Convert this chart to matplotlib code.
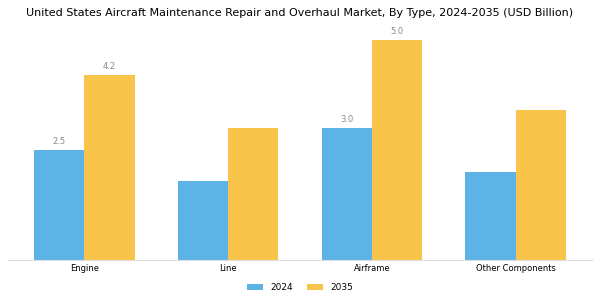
import numpy as np
import matplotlib.pyplot as plt

categories = ["Engine", "Line", "Airframe", "Other Components"]
values_2024 = [2.5, 1.8, 3.0, 2.0]
values_2035 = [4.2, 3.0, 5.0, 3.4]
# only some bars carry value labels in the original
labels_2024 = ["2.5", "", "3.0", ""]
labels_2035 = ["4.2", "", "5.0", ""]

blue = "#5DB3E6"
orange = "#F9C44A"

fig = plt.figure(figsize=(6, 3), dpi=100)
ax = fig.add_axes([8 / 600, 40 / 300, 584 / 600, 242 / 300])

x = np.arange(len(categories))
width = 0.35
bars1 = ax.bar(x - width / 2, values_2024, width, color=blue, label="2024")
bars2 = ax.bar(x + width / 2, values_2035, width, color=orange, label="2035")

for bars, labels in [(bars1, labels_2024), (bars2, labels_2035)]:
    for b, lab in zip(bars, labels):
        if lab:
            ax.annotate(lab, (b.get_x() + b.get_width() / 2, b.get_height()),
                        xytext=(0, 3), textcoords="offset points",
                        ha="center", va="bottom", fontsize=6, color="#888888")

ax.set_xlim(-0.53, 3.53)
ax.set_ylim(0, 5.5)
ax.set_xticks(x)
ax.set_xticklabels(categories, fontsize=6)
ax.tick_params(axis="x", length=0, pad=3)
ax.set_yticks([])
for s in ["top", "right", "left"]:
    ax.spines[s].set_visible(False)
ax.spines["bottom"].set_color("#dddddd")

fig.suptitle("United States Aircraft Maintenance Repair and Overhaul Market, By Type, 2024-2035 (USD Billion)",
             fontsize=8.05, y=0.975)

fig.legend(loc="lower center", bbox_to_anchor=(0.5, 0.0), ncol=2, frameon=False,
           fontsize=6.5, handlelength=1.8, handleheight=0.6, columnspacing=1.6)

fig.savefig("out.png", dpi=100)
